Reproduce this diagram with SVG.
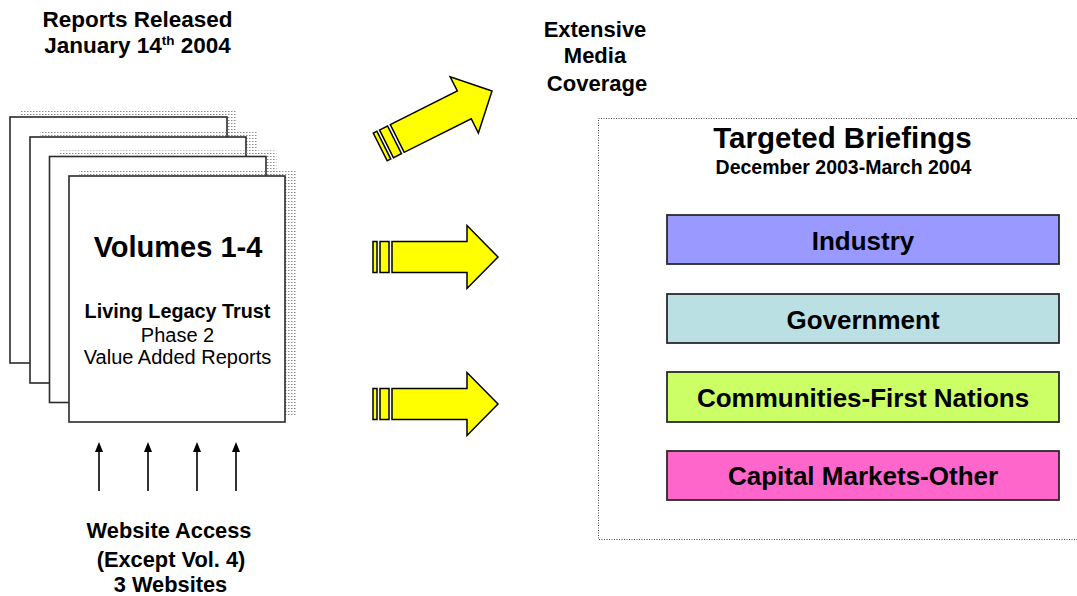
<svg xmlns="http://www.w3.org/2000/svg" xmlns:xlink="http://www.w3.org/1999/xlink" width="1077" height="596" viewBox="0 0 1077 596">
  <style>
    text { font-family: "Liberation Sans", Arial, sans-serif; fill: #000; }
    .b { font-weight: bold; }
    .mid { text-anchor: middle; }
    .page { fill: #fff; stroke: #2a2a2a; stroke-width: 1.6; }
    .shadow { fill: url(#dots); }
    .yarrow { fill: #ffff00; stroke: #000; stroke-width: 1.5; stroke-linejoin: miter; }
    .up { stroke: #000; stroke-width: 1.6; fill: none; marker-end: url(#tri); }
    .band { stroke: #2a2a2a; stroke-width: 1.8; }
    .frame { fill: none; stroke: #444; stroke-width: 1; stroke-dasharray: 1 1.5; }
  </style>
  <defs>
    <!-- stippled drop shadow behind the report pages -->
    <pattern id="dots" width="3" height="3" patternUnits="userSpaceOnUse">
      <rect x="0" y="0" width="1.5" height="1" fill="#8a8a8a"/>
    </pattern>
    <marker id="tri" viewBox="0 0 10 8" refX="6" refY="4" markerWidth="10" markerHeight="8" markerUnits="userSpaceOnUse" orient="auto">
      <path d="M0,0 L10,4 L0,8 z" fill="#000"/>
    </marker>
    <!-- block arrow with two tail stripes; tip at the origin -->
    <g id="bigArrow">
      <rect class="yarrow" x="-125" y="-15.5" width="4" height="31"/>
      <rect class="yarrow" x="-118" y="-15.5" width="9" height="31"/>
      <polygon class="yarrow" points="-106,-15.5 -31,-15.5 -31,-31.5 0,0 -31,31.5 -31,15.5 -106,15.5"/>
    </g>
  </defs>

  <rect width="1077" height="596" fill="#fff"/>

  <!-- heading above the report stack -->
  <g id="release-label">
    <text class="b mid" x="137.5" y="27" font-size="22.5">Reports Released</text>
    <text class="b mid" x="137.5" y="53" font-size="22.5">January 14<tspan font-size="13.5" dy="-8">th</tspan><tspan dy="8"> 2004</tspan></text>
  </g>

  <!-- stack of four report pages -->
  <g id="report-stack">
    <rect class="shadow" x="20" y="111" width="217" height="246"/>
    <rect class="page" x="10" y="117" width="217" height="246"/>
    <rect class="shadow" x="40" y="131" width="217" height="246"/>
    <rect class="page" x="30" y="137" width="216" height="246"/>
    <rect class="shadow" x="59.5" y="150.5" width="217" height="246"/>
    <rect class="page" x="49.5" y="156.5" width="216.5" height="246"/>
    <rect class="shadow" x="79" y="170" width="217" height="246"/>
    <rect class="page" x="69" y="176" width="216" height="246"/>
    <text class="b mid" x="178" y="257" font-size="29">Volumes 1-4</text>
    <text class="b mid" x="177.5" y="318" font-size="19.8">Living Legacy Trust</text>
    <text class="mid" x="177.5" y="342" font-size="20">Phase 2</text>
    <text class="mid" x="177.5" y="364" font-size="20">Value Added Reports</text>
  </g>

  <!-- website access caption -->
  <g id="website-label">
    <text class="b mid" x="169" y="538" font-size="21.8">Website Access</text>
    <text class="b mid" x="171" y="567" font-size="21.8">(Except Vol. 4)</text>
    <text class="b mid" x="170.5" y="592" font-size="21.8">3 Websites</text>
  </g>

  <!-- media coverage caption -->
  <g id="media-label">
    <text class="b mid" x="595" y="37" font-size="22">Extensive</text>
    <text class="b mid" x="595" y="63" font-size="22">Media</text>
    <text class="b mid" x="597" y="91" font-size="22">Coverage</text>
  </g>

  <!-- briefings panel -->
  <g id="briefings">
    <path class="frame" d="M1077,118.5 H598.5 V539.5 H1077"/>
    <text class="b mid" x="842.5" y="148" font-size="29.5">Targeted Briefings</text>
    <text class="b mid" x="843.5" y="174" font-size="19.5">December 2003-March 2004</text>
  </g>

  <g id="industry">
    <rect class="band" x="667" y="215" width="392" height="49" fill="#9999ff"/>
    <text class="b mid" x="863" y="250" font-size="26">Industry</text>
  </g>
  <g id="government">
    <rect class="band" x="667" y="294" width="392" height="49" fill="#bbe0e3"/>
    <text class="b mid" x="863" y="329" font-size="26">Government</text>
  </g>
  <g id="communities">
    <rect class="band" x="667" y="372" width="392" height="50" fill="#ccff66"/>
    <text class="b mid" x="863" y="407" font-size="26">Communities-First Nations</text>
  </g>
  <g id="capital-markets">
    <rect class="band" x="667" y="451" width="392" height="49" fill="#ff66cc"/>
    <text class="b mid" x="863" y="485" font-size="26">Capital Markets-Other</text>
  </g>

  <!-- connectors -->
  <g id="connectors">
    <use xlink:href="#bigArrow" transform="translate(492,91) rotate(-26.6)"/>
    <use xlink:href="#bigArrow" transform="translate(498,257)"/>
    <use xlink:href="#bigArrow" transform="translate(498,404)"/>
    <line class="up" x1="99" y1="491" x2="99" y2="446"/>
    <line class="up" x1="148" y1="491" x2="148" y2="446"/>
    <line class="up" x1="197" y1="491" x2="197" y2="446"/>
    <line class="up" x1="236" y1="491" x2="236" y2="446"/>
  </g>
</svg>
